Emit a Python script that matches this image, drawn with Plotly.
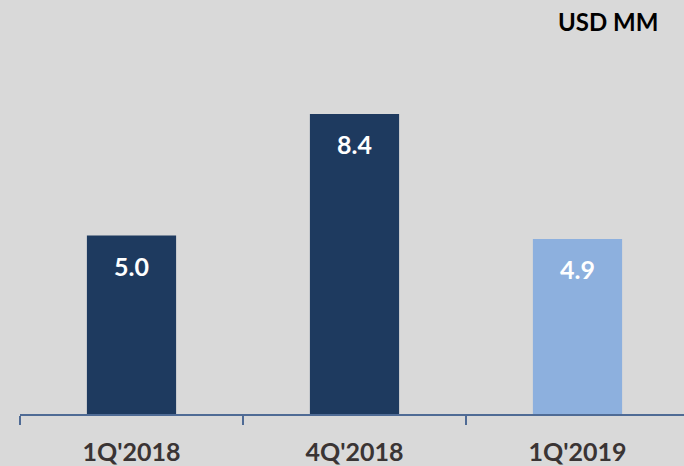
import plotly.graph_objects as go

categories = ["1Q'2018", "4Q'2018", "1Q'2019"]
values = [5.0, 8.4, 4.9]
value_labels = ["5.0", "8.4", "4.9"]
bar_colors = ["#1E3A5F", "#1E3A5F", "#8DB0DE"]
unit_label = "USD MM"

FONT = "Lato, 'Open Sans', sans-serif"

fig = go.Figure()
fig.add_trace(go.Bar(
    x=categories, y=values, marker=dict(color=bar_colors, line=dict(width=0)),
    width=0.40, hoverinfo="skip",
))

for c, v, t in zip(categories, values, value_labels):
    fig.add_annotation(x=c, y=v, text=f"<b>{t}</b>", showarrow=False,
                       yanchor="middle", yshift=-30,
                       font=dict(family=FONT, size=25, color="white"))

fig.add_annotation(xref="paper", yref="paper", x=1, xshift=-24, y=1, yshift=36,
                   text=f"<b>{unit_label}</b>", showarrow=False,
                   xanchor="right", yanchor="middle",
                   font=dict(family=FONT, size=24, color="black"))

fig.update_layout(
    width=684, height=466,
    paper_bgcolor="#D9D9D9", plot_bgcolor="#D9D9D9",
    margin=dict(l=20, r=0, t=57, b=52, autoexpand=False),
    showlegend=False,
    xaxis=dict(
        type="category", range=[-0.5, 2.4776], automargin=False,
        showline=True, linecolor="#4F6B95", linewidth=1.5,
        ticks="outside", tickson="boundaries", ticklen=9, tickwidth=1.5,
        tickcolor="#4F6B95", showgrid=False, zeroline=False,
        tickfont=dict(family=FONT, size=25, color="#3A3434"),
        ticklabelstandoff=15,
    ),
    yaxis=dict(range=[0, 10], visible=False, showgrid=False, zeroline=False,
               automargin=False),
)
fig.update_xaxes(tickprefix="<b>", ticksuffix="</b>")

fig.write_html(
    "out.html",
    config={"displayModeBar": False},
    post_script="document.body.style.margin='0';document.body.style.background='#D9D9D9';",
)
